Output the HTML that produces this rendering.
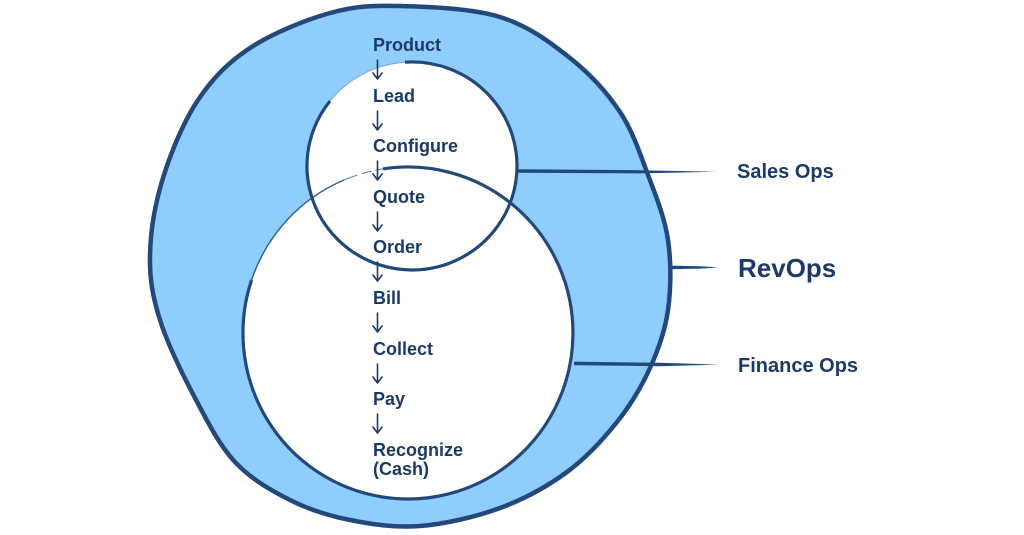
<!DOCTYPE html>
<html>
<head>
<meta charset="utf-8">
<style>
  html, body { margin:0; padding:0; background:#ffffff; }
  body { width:1024px; height:535px; overflow:hidden; }
  svg { display:block; }
  .t { font-family: "Liberation Sans", Arial, sans-serif; font-weight:bold; fill:#1b3a68; }
</style>
</head>
<body>
<svg width="1024" height="535" viewBox="0 0 1024 535" xmlns="http://www.w3.org/2000/svg">
  <!-- Outer RevOps blob -->
  <path d="M400,6 C428.3,6.7 471.7,8.3 500,17 C528.3,25.7 550,42.2 570,58 C590,73.8 607,92.5 620,112 C633,131.5 640,153.7 648,175 C656,196.3 664.7,217.5 668,240 C671.3,262.5 671,288.7 668,310 C665,331.3 658.5,349.3 650,368 C641.5,386.7 630.8,404.7 617,422 C603.2,439.3 586.5,457.7 567,472 C547.5,486.3 524.5,499 500,508 C475.5,517 445,524 420,526 C395,528 371.7,524.3 350,520 C328.3,515.7 309.2,509.7 290,500 C270.8,490.3 250.8,479 235,462 C219.2,445 207.5,421.7 195,398 C182.5,374.3 167.5,343.8 160,320 C152.5,296.2 149.5,278.7 150,255 C150.5,231.3 155,203.8 163,178 C171,152.2 183.5,121.7 198,100 C212.5,78.3 228,62.5 250,48 C272,33.5 305,20 330,13 C355,6 371.7,5.3 400,6 Z"
        fill="#8fcdfc" stroke="#22497a" stroke-width="4.5" stroke-linejoin="round"/>

  <!-- white fills of inner circles -->
  <ellipse cx="408" cy="333" rx="165" ry="166" fill="#ffffff"/>
  <ellipse cx="412" cy="166" rx="105" ry="104" fill="#ffffff"/>

  <!-- Finance circle strokes -->
  <path d="M383,168.9 A165 166 0 1 1 251.6,280" fill="none" stroke="#22497a" stroke-width="3.2"/>
  <path d="M251.6,280 A165 166 0 0 1 344,180" fill="none" stroke="#2f5a8a" stroke-width="1.4"/>
  <path d="M344,180 A165 166 0 0 1 383,168.9" fill="none" stroke="#5c88b6" stroke-width="1.1" stroke-dasharray="14 5 10 4"/>

  <!-- Sales circle strokes -->
  <path d="M405,62.2 A105 104 0 1 1 330,101" fill="none" stroke="#22497a" stroke-width="3.2"/>
  <path d="M330,101 A105 104 0 0 1 405,62.2" fill="none" stroke="#7aa6d2" stroke-width="1"/>

  <!-- Connector lines (tapered) -->
  <path d="M517,169.3 L640,170.2 L717,171.8 L640,173.4 L517,172.7 Z" fill="#22497a"/>
  <path d="M669,265.6 L700,266.3 L719,267.5 L700,268.6 L669,269.2 Z" fill="#22497a"/>
  <path d="M574,361.6 L660,362.8 L719,364.6 L660,366.2 L574,365.2 Z" fill="#22497a"/>

  <!-- Labels -->
  <text class="t" x="737" y="178" font-size="20">Sales Ops</text>
  <text class="t" x="738" y="277" font-size="26">RevOps</text>
  <text class="t" x="738" y="372" font-size="20">Finance Ops</text>

  <!-- Process list -->
  <g class="t" font-size="18">
    <text x="373" y="51">Product</text>
    <text x="373" y="102">Lead</text>
    <text x="373" y="152">Configure</text>
    <text x="373" y="203">Quote</text>
    <text x="373" y="253">Order</text>
    <text x="373" y="304">Bill</text>
    <text x="373" y="355">Collect</text>
    <text x="373" y="405">Pay</text>
    <text x="373" y="456">Recognize</text>
    <text x="373" y="475">(Cash)</text>
  </g>

  <!-- Arrows -->
  <g fill="none" stroke="#1b3a68" stroke-width="1.6" stroke-linecap="round" stroke-linejoin="round">
    <path d="M377.5,60 V79 M373,73 L377.5,79 L382,73"/>
    <path d="M377.5,111 V130 M373,124 L377.5,130 L382,124"/>
    <path d="M377.5,161 V180 M373,174 L377.5,180 L382,174"/>
    <path d="M377.5,212 V231 M373,225 L377.5,231 L382,225"/>
    <path d="M377.5,262 V281 M373,275 L377.5,281 L382,275"/>
    <path d="M377.5,313 V332 M373,326 L377.5,332 L382,326"/>
    <path d="M377.5,364 V383 M373,377 L377.5,383 L382,377"/>
    <path d="M377.5,414 V433 M373,427 L377.5,433 L382,427"/>
  </g>
</svg>
</body>
</html>
